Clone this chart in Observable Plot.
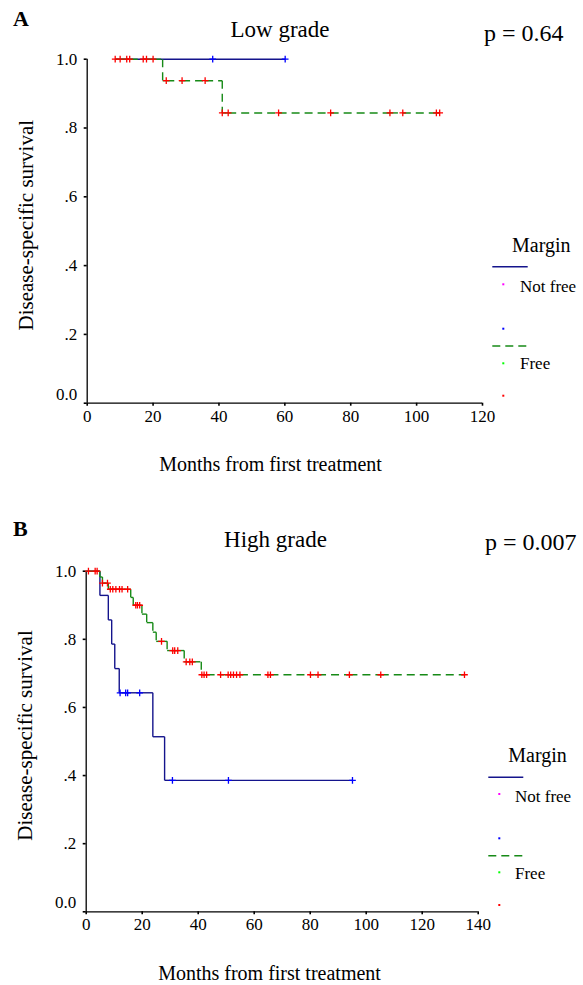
<!DOCTYPE html>
<html>
<head>
<meta charset="utf-8">
<script src="https://cdn.jsdelivr.net/npm/d3@7"></script>
<script src="https://cdn.jsdelivr.net/npm/@observablehq/plot@0.6"></script>
<style>
html,body{margin:0;padding:0;background:#fff;}
#fig{position:relative;width:583px;height:985px;overflow:hidden;background:#fff;}
#fig svg{position:absolute;left:0;}
</style>
</head>
<body>
<div id="fig"></div>
<script>
// ---------------- data ----------------
const panelLetters = ["A", "B"];
const panelTitles = ["Low grade", "High grade"];
const pValues = ["p = 0.64", "p = 0.007"];
const groupNames = ["Not free", "Free"];
const legendTitle = "Margin";
const xTitle = "Months from first treatment";
const yTitle = "Disease-specific survival";
const xTicksLow = [0, 20, 40, 60, 80, 100, 120];
const xTicksHigh = [0, 20, 40, 60, 80, 100, 120, 140];
const yTicks = [0, 0.2, 0.4, 0.6, 0.8, 1];
const yTickLabels = ["0.0", ".2", ".4", ".6", ".8", "1.0"];

// Low grade — Not free
const lowNotFreeRange = [8.5, 60.1];
const lowNotFreeEventTimes = [];
const lowNotFreeEventSurv = [];
const lowNotFreeCensored = [38.1, 60.1];
// Low grade — Free
const lowFreeRange = [8.5, 107.0];
const lowFreeEventTimes = [22.9, 41.0];
const lowFreeEventSurv = [0.9375, 0.8438];
const lowFreeCensored = [8.5, 10.0, 12.0, 12.9, 17.0, 18.0, 20.0, 24.0, 28.8, 35.8, 41.0, 42.8, 58.1, 73.9, 91.9, 95.8, 106.0, 107.0];

// High grade — Not free
const highNotFreeRange = [0, 95.1];
const highNotFreeEventTimes = [4.9, 7.9, 9.1, 10.2, 11.8, 23.8, 28.0];
const highNotFreeEventSurv = [0.929, 0.857, 0.786, 0.714, 0.643, 0.514, 0.386];
const highNotFreeCensored = [12.1, 14.1, 14.8, 19.1, 30.8, 50.8, 95.1];
// High grade — Free
const highFreeRange = [0, 135.1];
const highFreeEventTimes = [4.9, 5.8, 7.9, 15.9, 16.8, 19.9, 21.6, 23.8, 25.0, 28.9, 35.0, 41.1];
const highFreeEventSurv = [0.983, 0.965, 0.947, 0.923, 0.90, 0.874, 0.849, 0.821, 0.794, 0.767, 0.734, 0.696];
const highFreeCensored = [0.8, 3.2, 3.9, 5.8, 7.6, 8.6, 9.5, 10.6, 11.9, 12.8, 14.8, 17.7, 18.3, 19.1, 26.9, 30.9, 31.6, 32.7, 35.7, 37.0, 37.9, 41.3, 42.1, 43.0, 48.0, 50.7, 51.6, 52.6, 53.7, 54.9, 64.9, 65.8, 80.1, 82.8, 94.0, 105.2, 135.1];

// ---------------- styles ----------------
const FONT = '"Liberation Serif", "Times New Roman", serif';
const lineBlue = "#14148c", lineGreen = "#178a17";
const censorRed = "#ff0000", censorBlue = "#0000ff";
const legendDotColors = ["#ff00ff", "#0000ff", "#00ff00", "#ff0000"];
const dash = "8,5";

// ---------------- helpers ----------------
function kmSegments(range, evT, evS, cens) {
  const ms = [...evT.map((t, i) => ({t, s: evS[i]})), ...cens.map(t => ({t, s: null}))]
    .sort((a, b) => a.t - b.t || ((a.s === null) - (b.s === null)));
  const segs = [];
  let level = 1, prev = range[0];
  for (const m of ms) {
    if (m.t > prev) { segs.push({x1: prev, x2: m.t, y1: level, y2: level}); prev = m.t; }
    if (m.s !== null) { segs.push({x1: m.t, x2: m.t, y1: level, y2: m.s}); level = m.s; }
  }
  if (range[1] > prev) segs.push({x1: prev, x2: range[1], y1: level, y2: level});
  return segs;
}
function censorPoints(evT, evS, cens) {
  return cens.map(t => {
    let s = 1;
    evT.forEach((e, i) => { if (e <= t) s = evS[i]; });
    return {t, s};
  });
}

const panels = [
  {
    top: 0, height: 480,
    margin: {top: 58.7, right: 101, bottom: 77.3, left: 86.7},
    xMax: 120, xTicks: xTicksLow,
    notFree: [lowNotFreeRange, lowNotFreeEventTimes, lowNotFreeEventSurv, lowNotFreeCensored],
    free: [lowFreeRange, lowFreeEventTimes, lowFreeEventSurv, lowFreeCensored],
    xTitleDx: -14.3, yTitleDy: -6,
    letter: {x: 13, y: 26}, title: {x: 280, y: 37}, p: {x: 484, y: 41},
    legend: {x: 492.3, w: 35.4, dotX: 503.3, textX: 520, titleX: 512, titleY: 251.7,
             blueLineY: 266.7, nfDotY: 284.3, nfTextY: 291.7, blueDotY: 328.7,
             greenLineY: 346, fDotY: 363.3, fTextY: 369, redDotY: 395.7}
  },
  {
    top: 490, height: 495,
    margin: {top: 80.7, right: 105.3, bottom: 73.7, left: 85.7},
    xMax: 140, xTicks: xTicksHigh,
    notFree: [highNotFreeRange, highNotFreeEventTimes, highNotFreeEventSurv, highNotFreeCensored],
    free: [highFreeRange, highFreeEventTimes, highFreeEventSurv, highFreeCensored],
    xTitleDx: -12.7, yTitleDy: -6,
    letter: {x: 13, y: 536}, title: {x: 275.5, y: 546.7}, p: {x: 485, y: 550},
    legend: {x: 488.3, w: 35, dotX: 499.3, textX: 515, titleX: 508.3, titleY: 761.7,
             blueLineY: 777.3, nfDotY: 794, nfTextY: 801.7, blueDotY: 838.3,
             greenLineY: 855.7, fDotY: 872.3, fTextY: 879, redDotY: 905}
  }
];

const fig = document.getElementById("fig");

panels.forEach((P, pi) => {
  const [nfR, nfT, nfS, nfC] = P.notFree;
  const [fR, fT, fS, fC] = P.free;
  const segNF = kmSegments(nfR, nfT, nfS, nfC);
  const segF = kmSegments(fR, fT, fS, fC);
  const cNF = censorPoints(nfT, nfS, nfC);
  const cF = censorPoints(fT, fS, fC);

  const chart = Plot.plot({
    width: 583, height: P.height,
    marginTop: P.margin.top, marginRight: P.margin.right,
    marginBottom: P.margin.bottom, marginLeft: P.margin.left,
    style: {fontFamily: FONT, fontSize: "17px", color: "#000", background: "transparent", overflow: "visible"},
    x: {domain: [0, P.xMax]},
    y: {domain: [0, 1]},
    marks: [
      Plot.ruleY([0], {stroke: "#000", strokeWidth: 1.3}),
      Plot.ruleX([0], {stroke: "#000", strokeWidth: 1.3}),
      Plot.axisX({ticks: P.xTicks, tickSize: 3, tickPadding: 3.5, strokeWidth: 1.6, label: null, tickFormat: d => String(d)}),
      Plot.axisY({ticks: yTicks, tickSize: 3, tickPadding: 7, strokeWidth: 1.6, label: null,
                  tickFormat: d => d === 0 ? "" : yTickLabels[yTicks.indexOf(d)]}),
      Plot.axisY({ticks: [0], tickSize: 0, tickPadding: 10, dy: -9, label: null,
                  tickFormat: d => yTickLabels[yTicks.indexOf(d)]}),
      Plot.text([xTitle], {text: d => d, frameAnchor: "bottom", dy: 61.5, dx: P.xTitleDx, fontSize: 20, lineAnchor: "middle"}),
      Plot.text([yTitle], {text: d => d, frameAnchor: "left", rotate: -90, dx: -61, dy: P.yTitleDy, fontSize: 21,
                           lineAnchor: "middle", textAnchor: "middle"}),
      Plot.link(segNF, {x1: "x1", y1: "y1", x2: "x2", y2: "y2", stroke: lineBlue, strokeWidth: 1.4}),
      Plot.link(segF, {x1: "x1", y1: "y1", x2: "x2", y2: "y2", stroke: lineGreen, strokeWidth: 1.4, strokeDasharray: dash}),
      Plot.dot(cF, {x: "t", y: "s", symbol: "plus", r: 2.3, stroke: censorRed, strokeWidth: 1.3}),
      Plot.dot(cNF, {x: "t", y: "s", symbol: "plus", r: 2.3, stroke: censorBlue, strokeWidth: 1.3})
    ]
  });
  chart.style.top = P.top + "px";
  fig.appendChild(chart);
});

// overlay: panel letters, titles, p-values, legends
const over = d3.select(fig).append("svg")
  .attr("width", 583).attr("height", 985)
  .style("top", "0px")
  .attr("font-family", FONT);

panels.forEach((P, pi) => {
  over.append("text").attr("x", P.letter.x).attr("y", P.letter.y)
    .attr("font-size", 22).attr("font-weight", "bold").text(panelLetters[pi]);
  over.append("text").attr("x", P.title.x).attr("y", P.title.y)
    .attr("font-size", 23).attr("text-anchor", "middle").text(panelTitles[pi]);
  over.append("text").attr("x", P.p.x).attr("y", P.p.y)
    .attr("font-size", 24).text(pValues[pi]);

  const L = P.legend;
  over.append("text").attr("x", L.titleX).attr("y", L.titleY).attr("font-size", 20).text(legendTitle);
  over.append("line").attr("x1", L.x).attr("x2", L.x + L.w).attr("y1", L.blueLineY).attr("y2", L.blueLineY)
    .attr("stroke", lineBlue).attr("stroke-width", 1.4);
  over.append("line").attr("x1", L.x).attr("x2", L.x + L.w).attr("y1", L.greenLineY).attr("y2", L.greenLineY)
    .attr("stroke", lineGreen).attr("stroke-width", 1.4).attr("stroke-dasharray", dash);
  [L.nfDotY, L.blueDotY, L.fDotY, L.redDotY].forEach((yy, i) => {
    over.append("rect").attr("x", L.dotX - 1).attr("y", yy - 1).attr("width", 2).attr("height", 2)
      .attr("fill", legendDotColors[i]);
  });
  over.append("text").attr("x", L.textX).attr("y", L.nfTextY).attr("font-size", 17).text(groupNames[0]);
  over.append("text").attr("x", L.textX).attr("y", L.fTextY).attr("font-size", 17).text(groupNames[1]);
});
</script>
</body>
</html>
